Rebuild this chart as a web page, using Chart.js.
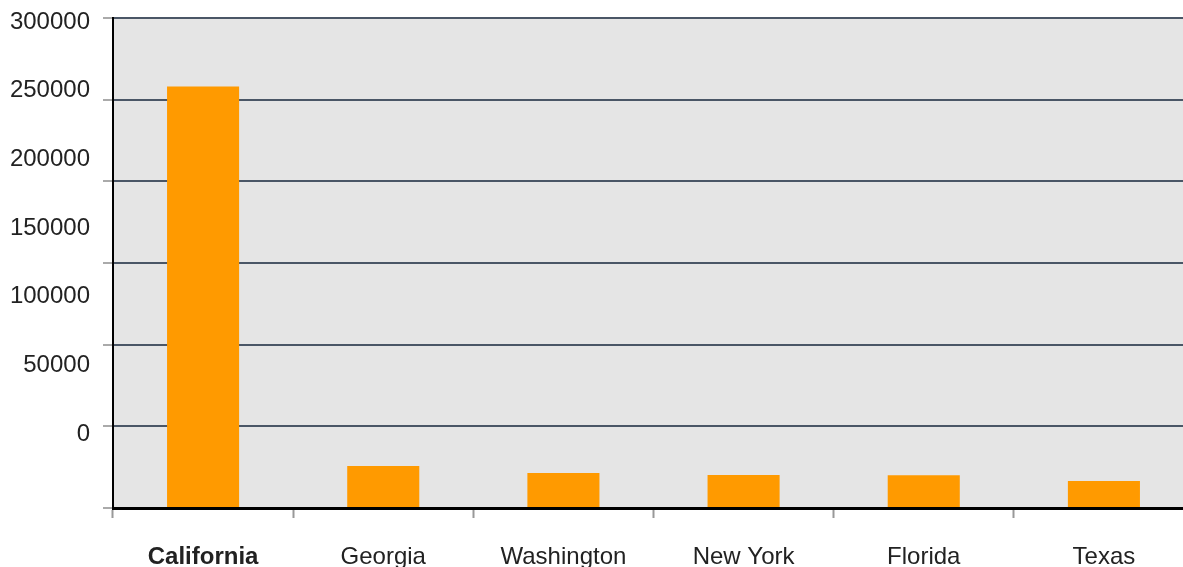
<!DOCTYPE html>
<html>
<head>
<meta charset="utf-8">
<script src="https://cdn.jsdelivr.net/npm/chart.js@4"></script>
<style>
  html, body { margin: 0; padding: 0; background: #fff; overflow: hidden; }
  #wrap { width: 1194px; height: 567px; position: relative; }
</style>
</head>
<body>
<div id="wrap"><canvas id="chart"></canvas></div>
<script>
const states = ['California', 'Georgia', 'Washington', 'New York', 'Florida', 'Texas'];
const counts = [258000, 25700, 21400, 20200, 20000, 16500];
const tickValues = [0, 50000, 100000, 150000, 200000, 250000, 300000];

// plot background fill
const plotBg = {
    id: 'plotBg',
    beforeDraw(chart) {
        const { ctx, chartArea: a } = chart;
        ctx.save();
        ctx.fillStyle = '#e5e5e5';
        ctx.fillRect(a.left, a.top, a.right - a.left, a.bottom - a.top);
        ctx.restore();
    }
};

Chart.defaults.font.family = '"Liberation Sans", Arial, sans-serif';

new Chart(document.getElementById('chart').getContext('2d'), {
    type: 'bar',
    data: {
        labels: states,
        datasets: [{
            data: counts,
            backgroundColor: '#ff9a00',
            borderWidth: 0,
            barPercentage: 0.4,
            categoryPercentage: 1
        }]
    },
    options: {
        responsive: true, maintainAspectRatio: false, animation: false,
        layout: { padding: { top: 18, right: 0, left: 0, bottom: 0 } },
        plugins: { legend: { display: false }, tooltip: { enabled: false } },
        scales: {
            x: {
                grid: { display: true, drawOnChartArea: false, drawTicks: true, tickLength: 10, tickColor: '#999', tickWidth: 2, offset: true },
                border: { display: true, color: '#000', width: 3 },
                ticks: {
                    color: '#222', padding: 25,
                    font: ctx => ({ size: 24, weight: ctx.index === 0 ? 'bold' : 'normal' })
                },
                afterFit(s) { s.height = 59; s.paddingLeft = 0; s.paddingRight = 0; }
            },
            y: {
                weight: 0,
                min: 0, max: 300000,
                grid: { color: '#4a5666', lineWidth: 2, tickLength: 10, tickColor: '#aaa', tickWidth: 2 },
                border: { display: true, color: '#000', width: 2 },
                ticks: { display: false, stepSize: 50000 },
                afterFit(s) { s.width = 10; s.paddingTop = 0; s.paddingBottom = 0; }
            },
            yl: {
                weight: 1,
                position: 'left',
                min: -53884, max: 302912,
                grid: { display: false },
                border: { display: false },
                afterBuildTicks(s) { s.ticks = tickValues.map(v => ({ value: v })); },
                ticks: { color: '#222', padding: 5, font: { size: 24 }, autoSkip: false, callback: v => String(v) },
                afterFit(s) { s.width = 103; s.paddingTop = 0; s.paddingBottom = 0; }
            }
        }
    },
    plugins: [plotBg]
});
</script>
</body>
</html>
